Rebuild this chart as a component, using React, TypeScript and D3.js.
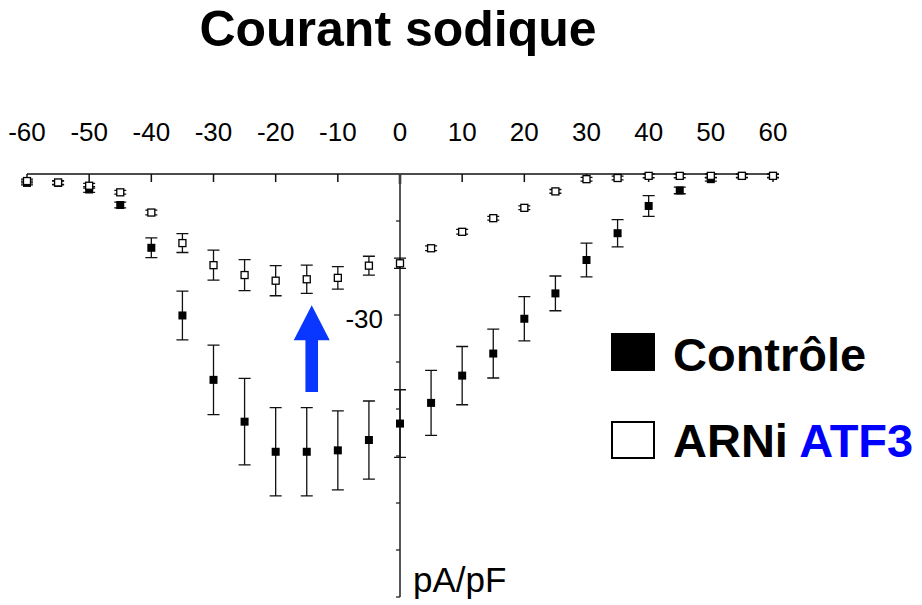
// Courant sodique — I/V curve, Contrôle vs ARNi ATF3
import React, { useEffect, useRef } from 'react';
import * as d3 from 'd3';

const voltages = [-60, -55, -50, -45, -40, -35, -30, -25, -20, -15, -10, -5, 0, 5, 10, 15, 20, 25, 30, 35, 40, 45, 50, 55, 60];

// Contrôle (filled squares), pA/pF
const controlMean = [-1.9, -1.9, -3.3, -6.6, -15.7, -30.1, -43.8, -52.7, -59.1, -59.1, -58.8, -56.6, -53.1, -48.7, -42.9, -38.2, -30.8, -25.4, -18.3, -12.6, -6.8, -3.5, -1.1, -0.4, -0.4];
const controlErr = [0.4, 0.4, 0.6, 0.6, 2.1, 5.2, 7.4, 9.2, 9.4, 9.4, 8.4, 8.3, 7.2, 6.9, 6.2, 5.2, 4.7, 3.7, 3.6, 2.9, 2.2, 0.7, 0.4, 0.3, 0.3];

// ARNi ATF3 (open squares), pA/pF
const arniMean = [-1.5, -1.8, -2.5, -3.9, -8.2, -14.7, -19.4, -21.5, -22.7, -22.4, -22.1, -19.5, -19.0, -15.8, -12.3, -9.4, -7.2, -3.7, -1.1, -0.85, -0.4, -0.4, -0.4, -0.4, -0.4];
const arniErr = [0.4, 0.4, 0.5, 0.4, 0.5, 2.0, 3.2, 3.3, 3.2, 3.0, 2.4, 2.0, 1.1, 0.5, 0.5, 0.4, 0.4, 0.4, 0.4, 0.4, 0.4, 0.4, 0.4, 0.4, 0.4];

const xTicks = [-60, -50, -40, -30, -20, -10, 0, 10, 20, 30, 40, 50, 60];
const yTicks = [-10, -20, -30, -40, -50, -60, -70, -80, -90];
const yLabelTicks = [-30];

// arrow from (x, yFrom) to (x, yTo) in data units
const arrow = { x: -14.2, yFrom: -46.4, yTo: -27.9 };

const FONT = '"Liberation Sans", Arial, sans-serif';

const App: React.FC = () => {
  const ref = useRef<SVGSVGElement>(null);

  useEffect(() => {
    if (!ref.current) return;
    const svg = d3.select(ref.current);
    svg.selectAll('*').remove();

    const width = 922;
    const height = 605;
    svg.attr('width', width).attr('height', height);

    const xScale = d3.scaleLinear().domain([-60, 60]).range([27, 773]);
    const yScale = d3.scaleLinear().domain([0, -90]).range([174, 597]);
    const x0 = xScale(0);
    const y0 = yScale(0);

    // Title
    svg.append('text')
      .attr('x', 398)
      .attr('y', 46)
      .attr('text-anchor', 'middle')
      .style('font-family', FONT)
      .style('font-size', '50px')
      .style('font-weight', 'bold')
      .text('Courant sodique');

    // X axis line + ticks (pointing down)
    svg.append('line')
      .attr('x1', xScale(-60)).attr('x2', xScale(60))
      .attr('y1', y0).attr('y2', y0)
      .attr('stroke', '#111').attr('stroke-width', 1.5);

    svg.selectAll('.xtick')
      .data(xTicks)
      .enter()
      .append('line')
      .attr('class', 'xtick')
      .attr('x1', d => xScale(d)).attr('x2', d => xScale(d))
      .attr('y1', y0).attr('y2', d => (d === 0 ? y0 + 10 : y0 + 8))
      .attr('stroke', '#111').attr('stroke-width', d => (d === 0 ? 2.5 : 1.5));

    svg.selectAll('.xlabel')
      .data(xTicks)
      .enter()
      .append('text')
      .attr('class', 'xlabel')
      .attr('x', d => xScale(d))
      .attr('y', 141)
      .attr('text-anchor', 'middle')
      .style('font-family', FONT)
      .style('font-size', '26px')
      .text(d => String(d));

    // Y axis line + ticks (pointing left)
    svg.append('line')
      .attr('x1', x0).attr('x2', x0)
      .attr('y1', y0).attr('y2', yScale(-90))
      .attr('stroke', '#444').attr('stroke-width', 1.8);

    svg.selectAll('.ytick')
      .data(yTicks)
      .enter()
      .append('line')
      .attr('class', 'ytick')
      .attr('x1', d => (yLabelTicks.includes(d) ? x0 - 6 : x0 - 4)).attr('x2', x0)
      .attr('y1', d => yScale(d)).attr('y2', d => yScale(d))
      .attr('stroke', '#222').attr('stroke-width', 1.3);

    svg.selectAll('.ylabel')
      .data(yLabelTicks)
      .enter()
      .append('text')
      .attr('class', 'ylabel')
      .attr('x', x0 - 17)
      .attr('y', d => yScale(d) + 13)
      .attr('text-anchor', 'end')
      .style('font-family', FONT)
      .style('font-size', '26px')
      .text(d => String(d));

    svg.append('text')
      .attr('x', 413)
      .attr('y', 592)
      .style('font-family', FONT)
      .style('font-size', '35px')
      .text('pA/pF');

    // Series
    const drawSeries = (means: number[], errs: number[], filled: boolean) => {
      const pts = voltages.map((v, i) => ({ v, m: means[i], e: errs[i] }));
      const g = svg.append('g');
      const capW = 6;

      g.selectAll('.bar')
        .data(pts)
        .enter()
        .append('path')
        .attr('d', d => {
          const x = xScale(d.v);
          const yt = yScale(d.m + d.e);
          const yb = yScale(d.m - d.e);
          return `M${x},${yt}V${yb}M${x - capW},${yt}H${x + capW}M${x - capW},${yb}H${x + capW}`;
        })
        .attr('fill', 'none')
        .attr('stroke', '#111')
        .attr('stroke-width', 1.3);

      const s = filled ? 8 : 7;
      g.selectAll('.pt')
        .data(pts)
        .enter()
        .append('rect')
        .attr('x', d => xScale(d.v) - s / 2)
        .attr('y', d => yScale(d.m) - s / 2)
        .attr('width', s)
        .attr('height', s)
        .attr('fill', filled ? '#000' : '#fff')
        .attr('stroke', '#000')
        .attr('stroke-width', filled ? 0 : 1.3);
    };

    drawSeries(controlMean, controlErr, true);
    drawSeries(arniMean, arniErr, false);

    // Blue arrow
    const ax = xScale(arrow.x);
    const aTip = yScale(arrow.yTo);
    const aBot = yScale(arrow.yFrom);
    const headH = 35;
    const headW = 18;
    const shaftW = 6.3;
    svg.append('path')
      .attr('d', `M${ax},${aTip}L${ax + headW},${aTip + headH}H${ax + shaftW}V${aBot}H${ax - shaftW}V${aTip + headH}H${ax - headW}Z`)
      .attr('fill', '#0a37ff');

    // Legend
    const legend = svg.append('g');
    legend.append('rect')
      .attr('x', 611).attr('y', 333)
      .attr('width', 44).attr('height', 38)
      .attr('fill', '#000');
    legend.append('text')
      .attr('x', 673).attr('y', 371)
      .style('font-family', FONT)
      .style('font-size', '47px')
      .style('font-weight', 'bold')
      .text('Contrôle');

    legend.append('rect')
      .attr('x', 612).attr('y', 422)
      .attr('width', 42).attr('height', 36)
      .attr('fill', '#fff')
      .attr('stroke', '#000')
      .attr('stroke-width', 2);
    const t2 = legend.append('text')
      .attr('x', 673).attr('y', 457)
      .style('font-family', FONT)
      .style('font-size', '47px')
      .style('font-weight', 'bold');
    t2.append('tspan').text('ARNi ');
    t2.append('tspan').attr('fill', '#0000ff').text('ATF3');
  }, []);

  return (
    <div style={{ position: 'fixed', left: 0, top: 0, background: '#fff' }}>
      <svg ref={ref} style={{ display: 'block' }}></svg>
    </div>
  );
};

export default App;
